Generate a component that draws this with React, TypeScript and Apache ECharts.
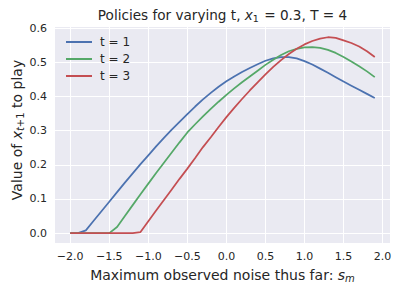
import React, { useEffect, useRef } from "react";
import * as echarts from "echarts";

const noiseValues = [
  -2.0, -1.9, -1.8, -1.7, -1.6, -1.5, -1.4, -1.3, -1.2, -1.1,
  -1.0, -0.9, -0.8, -0.7, -0.6, -0.5, -0.4, -0.3, -0.2, -0.1,
  0.0, 0.1, 0.2, 0.3, 0.4, 0.5, 0.6, 0.7, 0.8, 0.9,
  1.0, 1.1, 1.2, 1.3, 1.4, 1.5, 1.6, 1.7, 1.8, 1.9,
];

const policyT1 = [
  0.0, 0.0, 0.008, 0.036, 0.064, 0.092, 0.12, 0.148, 0.175, 0.202,
  0.228, 0.254, 0.279, 0.303, 0.326, 0.349, 0.371, 0.392, 0.411, 0.429,
  0.445, 0.459, 0.472, 0.484, 0.495, 0.505, 0.512, 0.516, 0.516, 0.512,
  0.504, 0.494, 0.482, 0.47, 0.457, 0.444, 0.432, 0.42, 0.408, 0.396,
];

const policyT2 = [
  0.0, 0.0, 0.0, 0.0, 0.0, 0.0, 0.018, 0.05, 0.082, 0.114,
  0.145, 0.176, 0.206, 0.236, 0.266, 0.295, 0.319, 0.342, 0.364, 0.385,
  0.405, 0.424, 0.442, 0.459, 0.476, 0.493, 0.508, 0.522, 0.533, 0.54,
  0.544, 0.545, 0.543, 0.537, 0.528, 0.516, 0.503, 0.489, 0.474, 0.457,
];

const policyT3 = [
  0.0, 0.0, 0.0, 0.0, 0.0, 0.0, 0.0, 0.0, 0.0, 0.003,
  0.035, 0.066, 0.097, 0.128, 0.159, 0.189, 0.22, 0.252, 0.281, 0.311,
  0.34, 0.367, 0.393, 0.418, 0.442, 0.465, 0.487, 0.507, 0.525, 0.54,
  0.553, 0.563, 0.57, 0.574, 0.572, 0.565, 0.557, 0.547, 0.533, 0.516,
];

const seriesNames = ["t = 1", "t = 2", "t = 3"];
const seriesColors = ["#4C72B0", "#55A868", "#C44E52"];
const xTicks = [-2.0, -1.5, -1.0, -0.5, 0.0, 0.5, 1.0, 1.5, 2.0];
const yTicks = [0.0, 0.1, 0.2, 0.3, 0.4, 0.5, 0.6];

const FONT = "DejaVu Sans";
const TEXT = "#262626";

const fmt = (v: number) => Number(v).toFixed(1).replace("-", "\u2212");

export default function App() {
  const ref = useRef<HTMLDivElement>(null);
  useEffect(() => {
    if (!ref.current) return;
    const chart = echarts.init(ref.current, null, { renderer: "svg" });
    const allSeries = [policyT1, policyT2, policyT3];
    chart.setOption({
      animation: false,
      backgroundColor: "#ffffff",
      grid: {
        left: 55,
        right: 9,
        top: 27,
        bottom: 49,
        show: true,
        backgroundColor: "#EAEAF2",
        borderWidth: 0,
      },
      xAxis: {
        type: "value",
        min: -2.195,
        max: 2.095,
        axisLine: { show: false },
        axisTick: { show: false, customValues: xTicks },
        axisLabel: {
          customValues: xTicks,
          formatter: fmt,
          color: TEXT,
          fontSize: 11,
          fontFamily: FONT,
          margin: 8,
        },
        splitLine: { show: true, lineStyle: { color: "#ffffff", width: 1 } },
      },
      yAxis: {
        type: "value",
        min: -0.029,
        max: 0.604,
        axisLine: { show: false },
        axisTick: { show: false, customValues: yTicks },
        axisLabel: {
          customValues: yTicks,
          formatter: fmt,
          color: TEXT,
          fontSize: 11,
          fontFamily: FONT,
          margin: 8,
        },
        splitLine: { show: true, lineStyle: { color: "#ffffff", width: 1 } },
      },
      legend: {
        orient: "vertical",
        left: 65,
        top: 36,
        padding: 0,
        itemWidth: 26,
        itemHeight: 14,
        itemGap: 5,
        itemStyle: { opacity: 0 },
        textStyle: { fontSize: 12, color: TEXT, fontFamily: FONT, padding: [0, 0, 0, 3] },
        data: seriesNames,
      },
      series: seriesNames.map((name, i) => ({
        name,
        type: "line",
        symbol: "none",
        showSymbol: false,
        color: seriesColors[i],
        lineStyle: { width: 1.75, color: seriesColors[i] },
        data: noiseValues.map((x, j) => [x, allSeries[i][j]]),
      })),
      graphic: [
        {
          type: "text",
          x: 222.5,
          y: 15,
          style: {
            text: "{n|Policies for varying t, }{i|x}{s|1}{n| = 0.3, T = 4}",
            align: "center",
            verticalAlign: "middle",
            rich: {
              n: { fontSize: 13.6, fontFamily: FONT, fill: TEXT, color: TEXT },
              i: { fontSize: 13.6, fontFamily: FONT, fontStyle: "italic", fill: TEXT, color: TEXT },
              s: { fontSize: 9.5, fontFamily: FONT, fill: TEXT, color: TEXT, padding: [7, 1, 0, 0] },
            },
          },
        },
        {
          type: "text",
          x: 222.5,
          y: 275,
          style: {
            text: "{n|Maximum observed noise thus far: }{i|s}{s|m}",
            align: "center",
            verticalAlign: "middle",
            rich: {
              n: { fontSize: 14, fontFamily: FONT, fill: TEXT, color: TEXT },
              i: { fontSize: 14, fontFamily: FONT, fontStyle: "italic", fill: TEXT, color: TEXT },
              s: { fontSize: 10, fontFamily: FONT, fontStyle: "italic", fill: TEXT, color: TEXT, padding: [7, 0, 0, 0] },
            },
          },
        },
        {
          type: "text",
          x: 17,
          y: 130,
          rotation: Math.PI / 2,
          style: {
            text: "{n|Value of }{i|x}{si|t}{s|+1}{n| to play}",
            align: "center",
            verticalAlign: "middle",
            rich: {
              n: { fontSize: 14, fontFamily: FONT, fill: TEXT, color: TEXT },
              i: { fontSize: 14, fontFamily: FONT, fontStyle: "italic", fill: TEXT, color: TEXT },
              si: { fontSize: 10, fontFamily: FONT, fontStyle: "italic", fill: TEXT, color: TEXT, padding: [7, 0, 0, 0] },
              s: { fontSize: 10, fontFamily: FONT, fill: TEXT, color: TEXT, padding: [7, 0, 0, 0] },
            },
          },
        },
      ],
    });
    return () => chart.dispose();
  }, []);
  return (
    <div
      ref={ref}
      style={{ position: "fixed", left: 0, top: 0, width: 399, height: 292 }}
    />
  );
}
